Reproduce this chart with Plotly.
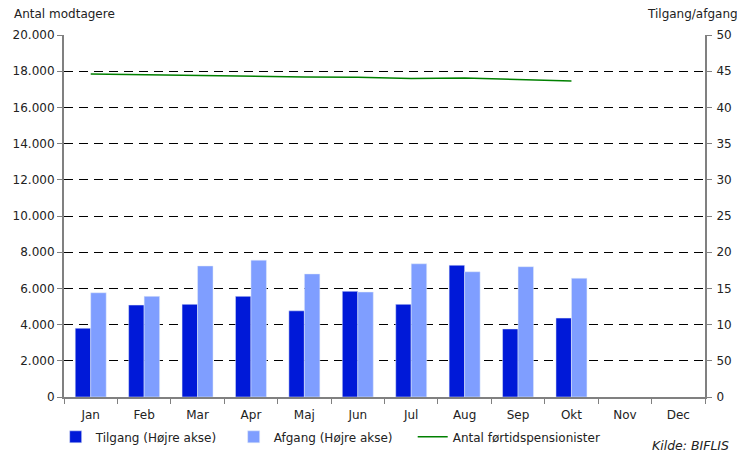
import plotly.graph_objects as go

months = ["Jan", "Feb", "Mar", "Apr", "Maj", "Jun", "Jul", "Aug", "Sep", "Okt", "Nov", "Dec"]

# bars are read on the right axis (Tilgang/afgang)
tilgang = [9.5, 12.7, 12.8, 13.9, 11.9, 14.6, 12.8, 18.2, 9.4, 10.9]
afgang = [14.4, 13.9, 18.1, 18.9, 17.0, 14.5, 18.4, 17.3, 18.0, 16.4]

# line on the left axis
modtagere = [17850, 17800, 17770, 17700, 17680, 17660, 17600, 17620, 17560, 17460]

left_ticks = [0, 2000, 4000, 6000, 8000, 10000, 12000, 14000, 16000, 18000, 20000]
left_labels = ["0", "2.000", "4.000", "6.000", "8.000", "10.000", "12.000",
               "14.000", "16.000", "18.000", "20.000"]
right_ticks = [0, 5, 10, 15, 20, 25, 30, 35, 40, 45, 50]
right_labels = ["0", "50", "10", "15", "20", "25", "30", "35", "40", "45", "50"]

font = "DejaVu Sans"

fig = go.Figure()
fig.add_trace(go.Bar(x=months[:len(tilgang)], y=tilgang, name="Tilgang (Højre akse)",
                     marker_color="#0019D8", yaxis="y2"))
fig.add_trace(go.Bar(x=months[:len(afgang)], y=afgang, name="Afgang (Højre akse)",
                     marker_color="#7F9EFF", yaxis="y2"))
fig.add_trace(go.Scatter(x=months[:len(modtagere)], y=modtagere, name="Antal førtidspensionister",
                         mode="lines", line=dict(color="#008000", width=1.5), legend="legend2"))

# the page body adds 8px around the figure, so the figure is 8px smaller
fig.update_layout(
    width=737, height=445,
    margin=dict(l=56, r=40, t=27, b=56, autoexpand=False),
    paper_bgcolor="white", plot_bgcolor="white",
    font=dict(family=font, size=12, color="#222"),
    barmode="group", bargap=0.42, bargroupgap=0,
    showlegend=True,
    legend=dict(orientation="h", x=-0.013, y=-0.11, xanchor="left", yanchor="middle",
                entrywidth=133, traceorder="normal", font=dict(size=12)),
    legend2=dict(orientation="h", x=0.544, y=-0.11, xanchor="left", yanchor="middle",
                 font=dict(size=12)),
    xaxis=dict(categoryorder="array", categoryarray=months, range=[-0.5, 11.5],
               showline=True, linecolor="#808080", linewidth=2, automargin=False,
               ticks="outside", tickson="boundaries", ticklen=5, tickcolor="#808080",
               ticklabelstandoff=6, showgrid=False),
    yaxis=dict(range=[0, 20000], tickvals=left_ticks, ticktext=left_labels,
               showline=True, linecolor="#808080", linewidth=2, automargin=False,
               ticks="outside", ticklen=5, tickcolor="#808080",
               showgrid=True, gridcolor="black", gridwidth=1, griddash="9px,6px",
               zeroline=False),
    yaxis2=dict(range=[0, 50], tickvals=right_ticks, ticktext=right_labels,
                overlaying="y", side="right", automargin=False,
                showline=True, linecolor="#808080", linewidth=2,
                ticks="outside", ticklen=5, tickcolor="#808080", ticklabelstandoff=2,
                showgrid=False, zeroline=False),
    annotations=[
        dict(text="Antal modtagere", xref="paper", yref="paper", x=0, y=1,
             yshift=21, xshift=-52, xanchor="left", yanchor="middle", showarrow=False,
             font=dict(size=12)),
        dict(text="Tilgang/afgang", xref="paper", yref="paper", x=1, y=1,
             yshift=21, xshift=-60, xanchor="left", yanchor="middle", showarrow=False,
             font=dict(size=12)),
        dict(text="<i>Kilde: BIFLIS</i>", xref="paper", yref="paper", x=0.914, y=-0.133,
             xanchor="left", yanchor="middle", showarrow=False,
             font=dict(size=12.5)),
    ],
)

fig.write_html("out.html")
